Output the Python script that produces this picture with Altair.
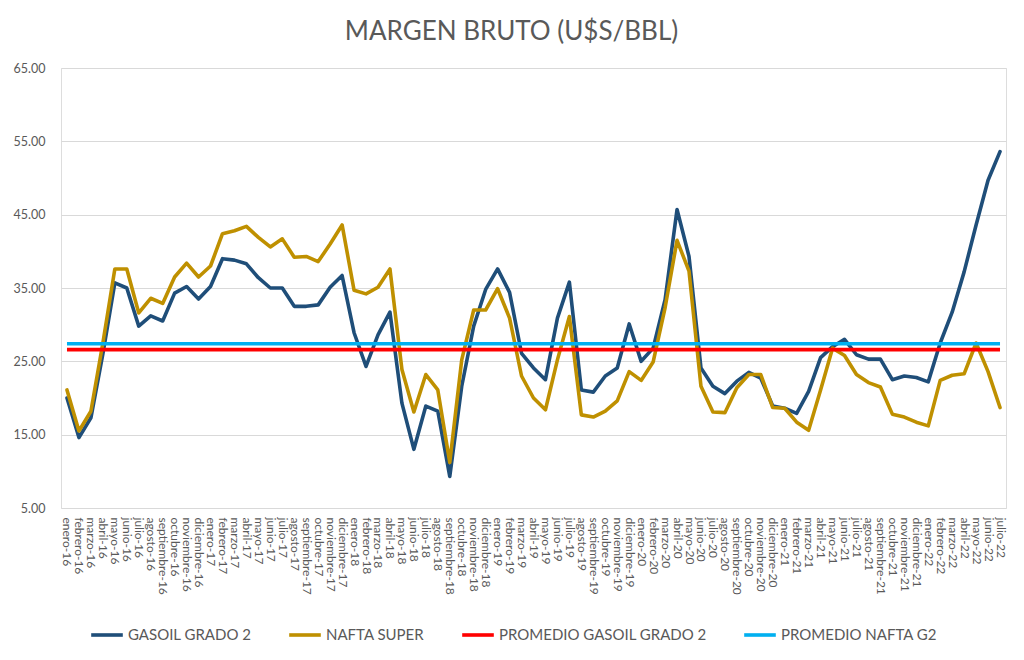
import altair as alt
import pandas as pd

MESES = ["enero", "febrero", "marzo", "abril", "mayo", "junio", "julio",
         "agosto", "septiembre", "octubre", "noviembre", "diciembre"]
months = [f"{m}-{y}" for y in range(16, 23) for m in MESES][:79]

gasoil = [20.0, 14.6, 17.3, 26.0, 35.7, 35.0, 29.8, 31.2, 30.5, 34.3, 35.2, 33.5,
          35.2, 39.0, 38.8, 38.3, 36.4, 35.0, 35.0, 32.5, 32.5, 32.7, 35.1, 36.7,
          28.9, 24.3, 28.6, 31.7, 19.3, 13.0, 18.9, 18.2, 9.3, 21.6, 29.8, 34.8,
          37.6, 34.4, 26.1, 24.1, 22.5, 30.9, 35.8, 21.1, 20.8, 23.0, 24.1, 30.1,
          25.0, 26.8, 33.4, 45.7, 39.3, 24.1, 21.6, 20.6, 22.3, 23.5, 22.7, 18.9,
          18.6, 17.9, 20.9, 25.5, 27.0, 28.0, 25.9, 25.3, 25.3, 22.5, 23.0, 22.8,
          22.2, 27.5, 31.7, 37.2, 43.6, 49.7, 53.6]

nafta = [21.1, 15.5, 18.2, 27.5, 37.6, 37.6, 31.6, 33.6, 32.9, 36.5, 38.4, 36.5,
         38.0, 42.4, 42.8, 43.4, 41.9, 40.6, 41.7, 39.2, 39.3, 38.6, 41.0, 43.6,
         34.7, 34.2, 35.1, 37.6, 23.9, 18.1, 23.2, 21.1, 11.2, 25.2, 32.0, 32.0,
         34.9, 30.9, 23.0, 20.0, 18.4, 25.2, 31.1, 17.7, 17.4, 18.2, 19.6, 23.6,
         22.4, 24.9, 32.3, 41.5, 37.3, 21.6, 18.1, 18.0, 21.4, 23.2, 23.2, 18.7,
         18.6, 16.7, 15.6, 21.1, 26.8, 25.8, 23.2, 22.1, 21.5, 17.8, 17.4, 16.7,
         16.2, 22.4, 23.1, 23.3, 27.5, 23.6, 18.7]

promedio_gasoil = 26.6
promedio_nafta = 27.4

series_names = ["GASOIL GRADO 2", "NAFTA SUPER", "PROMEDIO GASOIL GRADO 2", "PROMEDIO NAFTA G2"]
series_colors = ["#1F4E79", "#BF9000", "#FF0000", "#00B0F0"]
series_widths = [3.6, 3.6, 2.0, 2.5]
y_ticks = [5, 15, 25, 35, 45, 55, 65]

rows = []
for i, m in enumerate(months):
    rows.append({"mes": m, "valor": gasoil[i], "serie": series_names[0], "tipo": "dato"})
    rows.append({"mes": m, "valor": nafta[i], "serie": series_names[1], "tipo": "dato"})
    rows.append({"mes": m, "valor": promedio_gasoil, "serie": series_names[2], "tipo": "prom"})
    rows.append({"mes": m, "valor": promedio_nafta, "serie": series_names[3], "tipo": "prom"})
df = pd.DataFrame(rows)

TXT = "#595959"
FONT = "Lato"

x_enc = alt.X("mes:N", sort=months,
              scale=alt.Scale(type="point", padding=0.5),
              axis=alt.Axis(title=None, labelAngle=90, labelFontSize=12, labelColor=TXT,
                            labelFont=FONT, domain=False, ticks=False, labelPadding=9,
                            grid=False, labelOverlap=False))
y_enc = alt.Y("valor:Q",
              scale=alt.Scale(domain=[5, 65], nice=False, zero=False),
              axis=alt.Axis(values=y_ticks, format=".2f", title=None, domain=False, ticks=False,
                            labelPadding=16, gridColor="#d9d9d9", gridWidth=1,
                            labelFontSize=12.5, labelColor=TXT, labelFont=FONT))
color_enc = alt.Color("serie:N",
                      scale=alt.Scale(domain=series_names, range=series_colors),
                      legend=alt.Legend(title=None, orient="none", legendX=28, legendY=549,
                                        direction="horizontal", symbolType="stroke",
                                        symbolSize=1000, symbolStrokeWidth=4,
                                        labelFontSize=15, labelColor=TXT, labelFont=FONT,
                                        labelOffset=3, columnPadding=29, labelLimit=400))
sw_enc = alt.StrokeWidth("serie:N",
                         scale=alt.Scale(domain=series_names, range=series_widths),
                         legend=None)

base = alt.Chart(df)
lines = base.transform_filter(alt.datum.tipo == "dato").mark_line(
    strokeJoin="round", strokeCap="round").encode(x=x_enc, y=y_enc, color=color_enc, strokeWidth=sw_enc)
avgs = base.transform_filter(alt.datum.tipo == "prom").mark_line().encode(
    x=x_enc, y=y_enc, color=color_enc, strokeWidth=sw_enc)

chart = alt.layer(lines, avgs).properties(
    width=945, height=440,
    title=alt.TitleParams("MARGEN BRUTO (U$S/BBL)", fontSize=26, font=FONT, color=TXT,
                          fontWeight="normal", anchor="middle", dx=-22, offset=17),
    autosize=alt.AutoSizeParams(type="none"),
    padding={"left": 53, "top": 60, "right": 10, "bottom": 140},
).configure_view(stroke=None).configure(font=FONT)

chart.save("out.html", embed_options={"renderer": "svg", "actions": False})
